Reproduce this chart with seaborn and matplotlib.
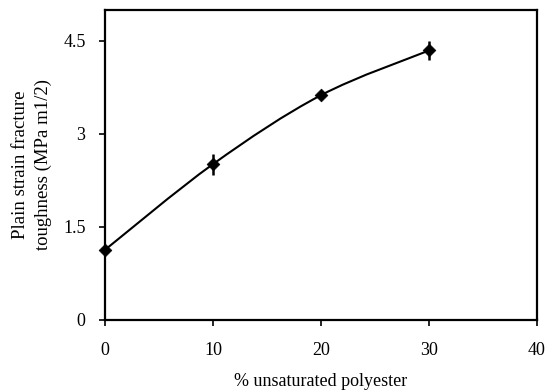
import numpy as np
import pandas as pd
import seaborn as sns
import matplotlib
matplotlib.use("Agg")
import matplotlib.pyplot as plt
from matplotlib.path import Path
from matplotlib.patches import PathPatch

# Fracture toughness vs. unsaturated polyester content
polyester_pct = [0, 10, 20, 30]
toughness = [1.13, 2.51, 3.62, 4.34]
toughness_err = [0.0, 0.17, 0.04, 0.16]
x_ticks = [0, 10, 20, 30, 40]
y_ticks = [0, 1.5, 3, 4.5]
y_tick_labels = ["0", "1.5", "3", "4.5"]

df = pd.DataFrame({"pct": polyester_pct, "k": toughness, "err": toughness_err})

sns.set_theme(style="white")
plt.rcParams["font.family"] = ["Liberation Serif", "DejaVu Serif"]

fig = plt.figure(figsize=(5.48, 3.91), dpi=100)
ax = fig.add_axes([0.1916, 0.1816, 0.7884, 0.7941])

# Smoothed connecting curve (Catmull-Rom style Bezier through the points)
xs = np.array(polyester_pct, dtype=float)
ys = np.array(toughness, dtype=float)
verts = [(xs[0], ys[0])]
codes = [Path.MOVETO]
t = 1.0 / 6.0
for i in range(len(xs) - 1):
    p0 = np.array([xs[max(i - 1, 0)], ys[max(i - 1, 0)]])
    p1 = np.array([xs[i], ys[i]])
    p2 = np.array([xs[i + 1], ys[i + 1]])
    p3 = np.array([xs[min(i + 2, len(xs) - 1)], ys[min(i + 2, len(xs) - 1)]])
    c1 = p1 + (p2 - p0) * t
    c2 = p2 - (p3 - p1) * t
    verts += [tuple(c1), tuple(c2), tuple(p2)]
    codes += [Path.CURVE4] * 3
ax.add_patch(PathPatch(Path(verts, codes), facecolor="none",
                       edgecolor="black", lw=1.5, zorder=2, clip_on=False))

ax.errorbar(df["pct"], df["k"], yerr=df["err"], fmt="none",
            ecolor="black", elinewidth=1.8, capsize=0, zorder=3, clip_on=False)
sns.scatterplot(data=df, x="pct", y="k", marker="D", s=42, color="black",
                edgecolor="black", linewidth=0.5, ax=ax, zorder=4, clip_on=False)

ax.set_xlim(0, 40)
ax.set_ylim(0, 5)
ax.set_xticks(x_ticks)
ax.set_xticklabels([str(v) for v in x_ticks])
ax.set_yticks(y_ticks)
ax.set_yticklabels(y_tick_labels)
ax.tick_params(axis="both", direction="out", length=4, width=1.2,
               color="black", labelsize=13, labelcolor="black", pad=10,
               bottom=True, left=True, top=False, right=False)
ax.tick_params(axis="x", pad=12)

for sp in ax.spines.values():
    sp.set_visible(True)
    sp.set_color("black")
    sp.set_linewidth(1.6)

ax.set_xlabel("% unsaturated polyester", fontsize=13, color="black", labelpad=10)
ax.set_ylabel("Plain strain fracture\ntoughness (MPa m1/2)", fontsize=13.5,
              color="black", labelpad=8, linespacing=1.45)
ax.grid(False)

fig.savefig("out.png", dpi=100)
